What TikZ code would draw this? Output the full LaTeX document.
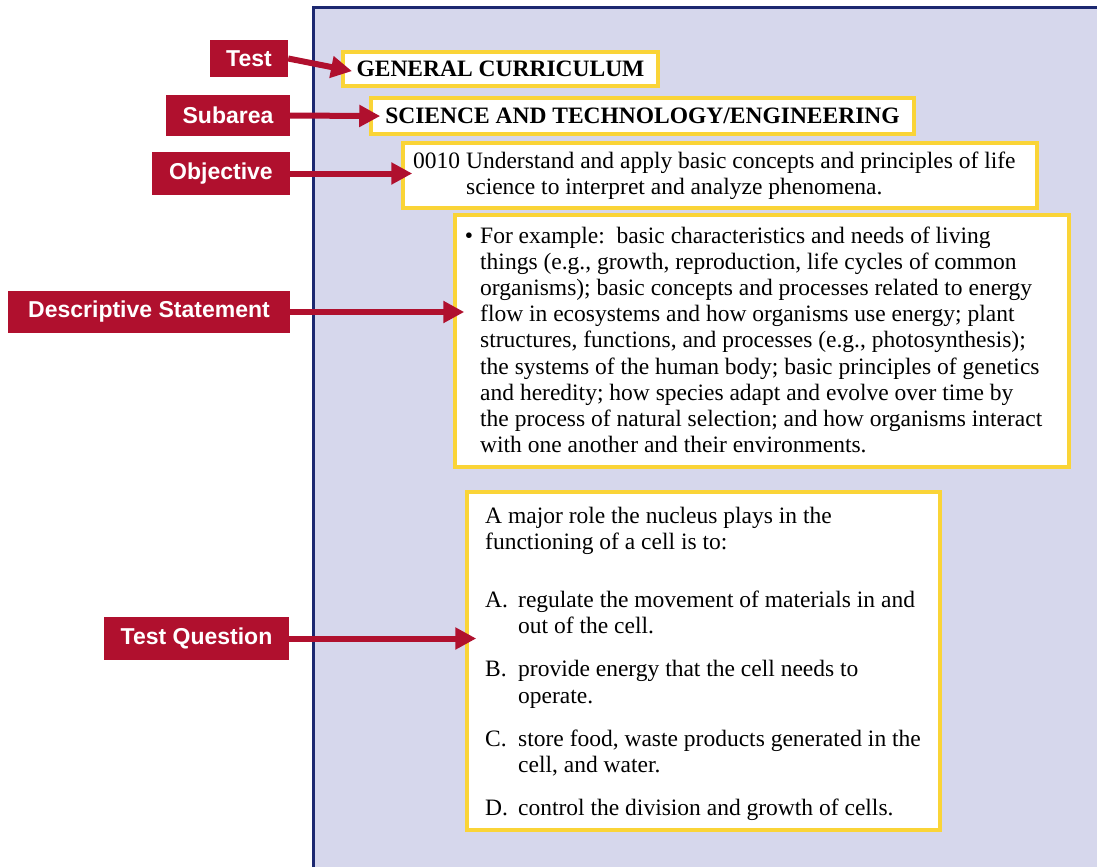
\documentclass[tikz,border=0pt]{standalone}
\usepackage{fontspec}
\setmainfont{Liberation Serif}
\newfontfamily\labfont{Liberation Sans}
\usetikzlibrary{arrows.meta}
\definecolor{panelcol}{RGB}{214,215,236}
\definecolor{navycol}{RGB}{28,40,112}
\definecolor{labred}{RGB}{176,16,46}
\definecolor{boxyellow}{RGB}{250,212,55}
\newcommand{\bodyfont}{\fontsize{23.5}{26.2}\selectfont}
\newcommand{\qitem}[1]{\makebox[33pt][l]{#1}}
\tikzset{
  lab/.style={fill=labred, text=white, font=\labfont\bfseries\fontsize{23}{26}\selectfont, inner sep=0pt, anchor=center},
  ybox/.style={draw=boxyellow, line width=3.5pt, fill=white, inner sep=0pt, anchor=center},
  txt/.style={inner sep=0pt, anchor=base west, font=\bodyfont},
  arr/.style={draw=labred, line width=6pt, -{Triangle[length=21pt,width=21pt]}, shorten >=-11pt}
}
\begin{document}
\begin{tikzpicture}[x=1pt,y=-1pt]
\useasboundingbox (0,0) rectangle (1097,867);
\fill[white] (0,0) rectangle (1097,867);
% panel
\fill[panelcol] (313,8) rectangle (1097,867);
\draw[navycol, line width=3pt] (313,867) -- (313,8) -- (1097,8);

% boxes
\node[ybox, minimum width=315pt, minimum height=34pt, font=\bodyfont\bfseries] (gen) at (500.5,69) {GENERAL CURRICULUM};
\node[ybox, minimum width=543pt, minimum height=36pt, font=\bodyfont\bfseries] (sci) at (642.5,116) {SCIENCE AND TECHNOLOGY/ENGINEERING};
\node[ybox, minimum width=634pt, minimum height=65pt] (obj) at (720,175.5) {};
\node[ybox, minimum width=614pt, minimum height=252pt] (desc) at (762,341) {};
\node[ybox, minimum width=473pt, minimum height=338pt] (ques) at (703.5,661) {};

% texts
\node[txt] (objtxt) at (413,168) {\parbox[t]{630pt}{\bodyfont
0010 Understand and apply basic concepts and principles of life\\
\hspace*{53pt}science to interpret and analyze phenomena.}};

\node[txt] (desctxt) at (480,243) {\parbox[t]{600pt}{\bodyfont
\leavevmode\llap{•\hspace{7pt}}For example:\ \ basic characteristics and needs of living\\
things (e.g., growth, reproduction, life cycles of common\\
organisms); basic concepts and processes related to energy\\
flow in ecosystems and how organisms use energy; plant\\
structures, functions, and processes (e.g., photosynthesis);\\
the systems of the human body; basic principles of genetics\\
and heredity; how species adapt and evolve over time by\\
the process of natural selection; and how organisms interact\\
with one another and their environments.}};

\node[txt] (questxt) at (485,523) {\parbox[t]{460pt}{\bodyfont
A major role the nucleus plays in the\\
functioning of a cell is to:\\[32pt]
\qitem{A.}regulate the movement of materials in and\\
\hspace*{33pt}out of the cell.\\[17pt]
\qitem{B.}provide energy that the cell needs to\\
\hspace*{33pt}operate.\\[17pt]
\qitem{C.}store food, waste products generated in the\\
\hspace*{33pt}cell, and water.\\[17pt]
\qitem{D.}control the division and growth of cells.}};

% labels
\node[lab, minimum width=78pt, minimum height=37pt] (ltest) at (249,58.5) {Test};
\node[lab, minimum width=124pt, minimum height=41pt] (lsub) at (228,115.5) {Subarea};
\node[lab, minimum width=138pt, minimum height=43pt] (lobj) at (221,173.5) {Objective};
\node[lab, minimum width=282pt, minimum height=42pt] (ldesc) at (149,312) {Descriptive Statement};
\node[lab, minimum width=185pt, minimum height=43pt] (lq) at (196.5,638.5) {Test Question};

% arrows
\draw[arr] (ltest.east) -- (gen.west);
\draw[arr] (lsub.east) -- (sci.west);
\draw[arr] (lobj.east) -- (lobj.east -| obj.west);
\draw[arr] (ldesc.east) -- (ldesc.east -| desc.west);
\draw[arr] (lq.east) -- (lq.east -| ques.west);
\end{tikzpicture}
\end{document}
